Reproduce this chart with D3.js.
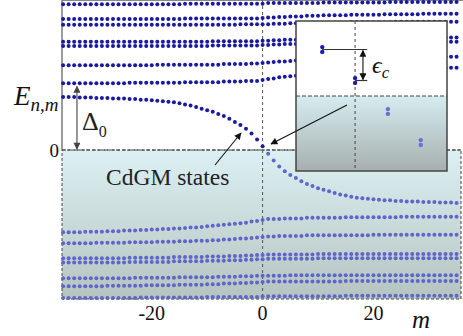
<!DOCTYPE html>
<html>
<head>
<meta charset="utf-8">
<script src="https://cdn.jsdelivr.net/npm/d3@7"></script>
</head>
<body style="margin:0">
<div id="chart"></div>
<script>
// angular momentum index m, one dot per band per m
const mValues = d3.range(-36, 36);

// Energy levels E_{n,m} (units of Delta0), listed for m = -36 ... 35
// bands above the gap
const bandA = [
  2.75, 2.75, 2.75, 2.75, 2.75, 2.75, 2.75, 2.75, 2.75, 2.75,
  2.75, 2.75, 2.75, 2.75, 2.75, 2.75, 2.75, 2.75, 2.75, 2.75,
  2.75, 2.75,
  2.76, 2.76, 2.76, 2.76, 2.76, 2.76, 2.76, 2.76, 2.76, 2.76,
  2.76, 2.76, 2.76, 2.76, 2.76,
  2.77, 2.77, 2.77, 2.77, 2.77, 2.77, 2.77, 2.77, 2.77, 2.77,
  2.78, 2.78, 2.78, 2.78, 2.78, 2.78, 2.78, 2.78, 2.78, 2.78,
  2.78, 2.78,
  2.79, 2.79, 2.79, 2.79, 2.79, 2.79, 2.79, 2.79, 2.79, 2.79,
  2.79, 2.79, 2.79
];
const bandB = [
  2.47, 2.47, 2.47, 2.47, 2.47, 2.47, 2.47, 2.47, 2.47, 2.47,
  2.47, 2.47, 2.47, 2.47, 2.47, 2.47, 2.47, 2.47, 2.47, 2.47,
  2.47, 2.47,
  2.48, 2.48, 2.48, 2.48, 2.48, 2.48, 2.48, 2.48, 2.48, 2.48,
  2.48, 2.48, 2.48, 2.48,
  2.49,
  2.50, 2.50, 2.51, 2.51, 2.52, 2.52, 2.52, 2.53, 2.53, 2.53,
  2.54, 2.54, 2.54, 2.54, 2.54,
  2.55, 2.55, 2.55, 2.55, 2.55, 2.55,
  2.56, 2.56, 2.56, 2.56, 2.56, 2.56, 2.56,
  2.57, 2.57, 2.57, 2.57, 2.57, 2.57, 2.57
];
const bandC = [
  2.36, 2.36, 2.36, 2.36, 2.36, 2.36, 2.36, 2.36, 2.36, 2.36,
  2.36, 2.36, 2.36, 2.36, 2.36, 2.36, 2.36, 2.36, 2.36, 2.36,
  2.36, 2.36, 2.36, 2.36, 2.36, 2.36, 2.36, 2.36, 2.36, 2.36,
  2.36, 2.36,
  2.37, 2.37, 2.37, 2.37, 2.37,
  2.37, 2.38, 2.38, 2.38, 2.39, 2.39, 2.39, 2.39, 2.40, 2.40,
  2.40, 2.40, 2.40, 2.40, 2.40,
  2.41, 2.41, 2.41, 2.41, 2.41, 2.41, 2.41, 2.41,
  2.42, 2.42, 2.42, 2.42, 2.42, 2.42, 2.42, 2.42, 2.42, 2.42,
  2.42, 2.42
];
const bandD1 = [
  2.04, 2.04, 2.04, 2.04, 2.04, 2.04, 2.04, 2.04, 2.04, 2.04,
  2.04, 2.04, 2.04, 2.04, 2.04, 2.04, 2.04, 2.04, 2.04, 2.04,
  2.04, 2.04, 2.04, 2.04, 2.04, 2.04, 2.04,
  2.05, 2.05, 2.05, 2.05, 2.05, 2.05, 2.05, 2.05, 2.05,
  2.06,
  2.06, 2.07, 2.07, 2.08, 2.08, 2.08, 2.09, 2.09, 2.09, 2.09,
  2.10, 2.10, 2.10, 2.10, 2.10, 2.10,
  2.11, 2.11, 2.11, 2.11, 2.11, 2.11, 2.11, 2.11,
  2.12, 2.12, 2.12, 2.12, 2.12, 2.12, 2.12, 2.12, 2.12, 2.12,
  2.12
];
const bandD2 = [
  1.96, 1.96, 1.96, 1.96, 1.96, 1.96, 1.96, 1.96, 1.96, 1.96,
  1.96, 1.96, 1.96, 1.96, 1.96, 1.96, 1.96, 1.96, 1.96, 1.96,
  1.96, 1.96, 1.96, 1.96, 1.96, 1.96, 1.96,
  1.97, 1.97, 1.97, 1.97, 1.97, 1.97, 1.97, 1.97, 1.97,
  1.98,
  1.98, 1.99, 1.99, 2.00, 2.00, 2.00, 2.01, 2.01, 2.01, 2.01,
  2.02, 2.02, 2.02, 2.02, 2.02, 2.02,
  2.03, 2.03, 2.03, 2.03, 2.03, 2.03, 2.03, 2.03,
  2.04, 2.04, 2.04, 2.04, 2.04, 2.04, 2.04, 2.04, 2.04, 2.04,
  2.04
];
const bandE = [
  1.60, 1.60, 1.60, 1.60, 1.60, 1.60, 1.60, 1.60, 1.60, 1.60,
  1.60, 1.60, 1.60, 1.60, 1.60, 1.60, 1.60,
  1.61, 1.61, 1.61, 1.61, 1.61, 1.61, 1.61, 1.61, 1.61, 1.61,
  1.61, 1.61,
  1.62, 1.62, 1.62, 1.62, 1.62,
  1.63, 1.63,
  1.64,
  1.65, 1.66, 1.67, 1.67, 1.68, 1.69, 1.69, 1.70, 1.70, 1.71,
  1.71, 1.71, 1.72, 1.72, 1.72, 1.73, 1.73, 1.73, 1.73, 1.74,
  1.74, 1.74, 1.74, 1.74, 1.75, 1.75, 1.75, 1.75, 1.75, 1.75,
  1.76, 1.76, 1.76, 1.76, 1.76
];
const bandF = [
  1.26, 1.26, 1.26, 1.26, 1.26, 1.26, 1.26, 1.26, 1.26, 1.26,
  1.26, 1.26,
  1.27, 1.27, 1.27, 1.27, 1.27, 1.27, 1.27, 1.27, 1.27, 1.27,
  1.28, 1.28, 1.28, 1.28, 1.28, 1.28, 1.28,
  1.29, 1.29, 1.29, 1.29,
  1.30, 1.30, 1.30,
  1.32,
  1.34, 1.35, 1.37, 1.38, 1.39, 1.40, 1.41, 1.42, 1.43, 1.44,
  1.45, 1.46, 1.46, 1.47, 1.48, 1.48, 1.49, 1.49, 1.50, 1.50,
  1.51, 1.51, 1.52, 1.52, 1.52, 1.53, 1.53, 1.53, 1.54, 1.54,
  1.54, 1.54, 1.55, 1.55, 1.55
];

// CdGM branch, crossing zero near m = 1/2
const bandCdGM = [
  1.00, 1.00, 1.00, 0.99, 0.99, 0.99, 0.98, 0.98, 0.98, 0.97,
  0.97, 0.97, 0.96, 0.96, 0.95, 0.95, 0.94, 0.93, 0.92, 0.91,
  0.90, 0.88, 0.86, 0.84, 0.81, 0.78, 0.75, 0.72, 0.68, 0.64,
  0.59, 0.53, 0.47, 0.40, 0.31, 0.20, 0.07, -0.07, -0.20, -0.31,
  -0.40, -0.47, -0.53, -0.59, -0.64, -0.68, -0.72, -0.75, -0.78, -0.81,
  -0.84, -0.86, -0.88, -0.90, -0.91, -0.92, -0.93, -0.94, -0.95, -0.95,
  -0.96, -0.96, -0.97, -0.97, -0.97, -0.98, -0.98, -0.98, -0.99, -0.99,
  -0.99, -1.00
];

// bands below the gap
const bandFm = [
  -1.55, -1.55, -1.55, -1.55, -1.54, -1.54, -1.54, -1.54, -1.53, -1.53,
  -1.53, -1.52, -1.52, -1.52, -1.51, -1.51, -1.50, -1.50, -1.49, -1.49,
  -1.48, -1.48, -1.47, -1.46, -1.46, -1.45, -1.44, -1.43, -1.42, -1.41,
  -1.40, -1.39, -1.38, -1.37, -1.35, -1.34,
  -1.32,
  -1.30, -1.30, -1.30,
  -1.29, -1.29, -1.29, -1.29,
  -1.28, -1.28, -1.28, -1.28, -1.28, -1.28, -1.28,
  -1.27, -1.27, -1.27, -1.27, -1.27, -1.27, -1.27, -1.27, -1.27, -1.27,
  -1.26, -1.26, -1.26, -1.26, -1.26, -1.26, -1.26, -1.26, -1.26, -1.26,
  -1.26
];
const bandEm = [
  -1.76, -1.76, -1.76, -1.76, -1.76, -1.76,
  -1.75, -1.75, -1.75, -1.75, -1.75, -1.75,
  -1.74, -1.74, -1.74, -1.74, -1.74,
  -1.73, -1.73, -1.73, -1.73,
  -1.72, -1.72, -1.72, -1.71, -1.71, -1.71,
  -1.70, -1.70, -1.69, -1.69, -1.68, -1.67, -1.67, -1.66, -1.65,
  -1.64,
  -1.63, -1.63,
  -1.62, -1.62, -1.62, -1.62, -1.62,
  -1.61, -1.61, -1.61, -1.61, -1.61, -1.61, -1.61, -1.61, -1.61, -1.61,
  -1.61, -1.61,
  -1.60, -1.60, -1.60, -1.60, -1.60, -1.60, -1.60, -1.60, -1.60, -1.60,
  -1.60, -1.60, -1.60, -1.60, -1.60, -1.60
];
const bandD2m = [
  -2.04, -2.04, -2.04, -2.04, -2.04, -2.04, -2.04, -2.04, -2.04, -2.04,
  -2.04, -2.04,
  -2.03, -2.03, -2.03, -2.03, -2.03, -2.03, -2.03, -2.03,
  -2.02, -2.02, -2.02, -2.02, -2.02, -2.02,
  -2.01, -2.01, -2.01, -2.01, -2.00, -2.00, -2.00, -1.99, -1.99, -1.98,
  -1.98,
  -1.97, -1.97, -1.97, -1.97, -1.97, -1.97, -1.97, -1.97, -1.97,
  -1.96, -1.96, -1.96, -1.96, -1.96, -1.96, -1.96, -1.96, -1.96, -1.96,
  -1.96, -1.96, -1.96, -1.96, -1.96, -1.96, -1.96, -1.96, -1.96, -1.96,
  -1.96, -1.96, -1.96, -1.96, -1.96, -1.96
];
const bandD1m = [
  -2.12, -2.12, -2.12, -2.12, -2.12, -2.12, -2.12, -2.12, -2.12, -2.12,
  -2.12, -2.12,
  -2.11, -2.11, -2.11, -2.11, -2.11, -2.11, -2.11, -2.11,
  -2.10, -2.10, -2.10, -2.10, -2.10, -2.10,
  -2.09, -2.09, -2.09, -2.09, -2.08, -2.08, -2.08, -2.07, -2.07, -2.06,
  -2.06,
  -2.05, -2.05, -2.05, -2.05, -2.05, -2.05, -2.05, -2.05, -2.05,
  -2.04, -2.04, -2.04, -2.04, -2.04, -2.04, -2.04, -2.04, -2.04, -2.04,
  -2.04, -2.04, -2.04, -2.04, -2.04, -2.04, -2.04, -2.04, -2.04, -2.04,
  -2.04, -2.04, -2.04, -2.04, -2.04, -2.04
];
const bandCm = [
  -2.42, -2.42, -2.42, -2.42, -2.42, -2.42, -2.42, -2.42, -2.42, -2.42,
  -2.42, -2.42, -2.42,
  -2.41, -2.41, -2.41, -2.41, -2.41, -2.41, -2.41, -2.41,
  -2.40, -2.40, -2.40, -2.40, -2.40, -2.40, -2.40,
  -2.39, -2.39, -2.39, -2.39, -2.38, -2.38, -2.38,
  -2.37, -2.37, -2.37, -2.37, -2.37, -2.37,
  -2.36, -2.36, -2.36, -2.36, -2.36, -2.36, -2.36, -2.36, -2.36, -2.36,
  -2.36, -2.36, -2.36, -2.36, -2.36, -2.36, -2.36, -2.36, -2.36, -2.36,
  -2.36, -2.36, -2.36, -2.36, -2.36, -2.36, -2.36, -2.36, -2.36, -2.36,
  -2.36
];
const bandBm = [
  -2.57, -2.57, -2.57, -2.57, -2.57, -2.57, -2.57, -2.57,
  -2.56, -2.56, -2.56, -2.56, -2.56, -2.56, -2.56,
  -2.55, -2.55, -2.55, -2.55, -2.55, -2.55,
  -2.54, -2.54, -2.54, -2.54, -2.54,
  -2.53, -2.53, -2.53, -2.52, -2.52, -2.52, -2.51, -2.51, -2.50, -2.50,
  -2.49,
  -2.48, -2.48, -2.48, -2.48, -2.48, -2.48, -2.48, -2.48, -2.48, -2.48,
  -2.48, -2.48, -2.48, -2.48,
  -2.47, -2.47, -2.47, -2.47, -2.47, -2.47, -2.47, -2.47, -2.47, -2.47,
  -2.47, -2.47, -2.47, -2.47, -2.47, -2.47, -2.47, -2.47, -2.47, -2.47,
  -2.47
];
const bandAm = [
  -2.79, -2.79, -2.79, -2.79, -2.79, -2.79, -2.79, -2.79, -2.79, -2.79,
  -2.79, -2.79, -2.79, -2.79,
  -2.78, -2.78, -2.78, -2.78, -2.78, -2.78, -2.78, -2.78, -2.78, -2.78,
  -2.78, -2.78,
  -2.77, -2.77, -2.77, -2.77, -2.77, -2.77, -2.77, -2.77, -2.77, -2.77,
  -2.76, -2.76, -2.76, -2.76, -2.76, -2.76, -2.76, -2.76, -2.76, -2.76,
  -2.76, -2.76, -2.76, -2.76, -2.76,
  -2.75, -2.75, -2.75, -2.75, -2.75, -2.75, -2.75, -2.75, -2.75, -2.75,
  -2.75, -2.75, -2.75, -2.75, -2.75, -2.75, -2.75, -2.75, -2.75, -2.75,
  -2.75
];

// inset: zoom on the crossing, levels in units of eps_c
const insetM = [-1, 0, 1, 2];
const insetE = [1.5, 0.5, -0.5, -1.5];

const xTicks = [-20, 0, 20];

const bands = [bandA, bandB, bandC, bandD1, bandD2, bandE, bandF, bandCdGM,
               bandFm, bandEm, bandD2m, bandD1m, bandCm, bandBm, bandAm];
bands.forEach((b, k) => {
  if (b.length !== mValues.length) throw new Error("band " + k + " has " + b.length + " values");
});

const SERIF = "Liberation Serif";
const W = 463, H = 336;
const svg = d3.select("#chart").append("svg").attr("width", W).attr("height", H)
  .style("display", "block");

const x = d3.scaleLinear().domain([-36.2, 35.8]).range([62, 461]);
const y = d3.scaleLinear().domain([-2.81, 2.81]).range([299, 1]);

// gradients and arrow heads
const defs = svg.append("defs");
const g1 = defs.append("linearGradient").attr("id", "gapShade")
  .attr("x1", 0).attr("y1", 0).attr("x2", 0).attr("y2", 1);
g1.append("stop").attr("offset", 0).attr("stop-color", "#dcf0f3");
g1.append("stop").attr("offset", 1).attr("stop-color", "#b6c4c0");
const g2 = defs.append("linearGradient").attr("id", "insetShade")
  .attr("x1", 0).attr("y1", 0).attr("x2", 0).attr("y2", 1);
g2.append("stop").attr("offset", 0).attr("stop-color", "#d5ecef");
g2.append("stop").attr("offset", 1).attr("stop-color", "#a7afaf");

function marker(id, color) {
  defs.append("marker").attr("id", id)
    .attr("viewBox", "0 0 10 10").attr("refX", 9).attr("refY", 5)
    .attr("markerWidth", 9).attr("markerHeight", 7)
    .attr("markerUnits", "userSpaceOnUse")
    .attr("orient", "auto-start-reverse")
    .append("path").attr("d", "M0,0 L10,5 L0,10 z").attr("fill", color);
}
marker("arrBlack", "#111");
marker("arrGrey", "#444");

// shaded region E < 0
svg.append("rect")
  .attr("x", x.range()[0]).attr("y", y(0))
  .attr("width", x.range()[1] - x.range()[0])
  .attr("height", y.range()[0] - y(0))
  .attr("fill", "url(#gapShade)")
  .attr("stroke", "#444").attr("stroke-width", 1)
  .attr("stroke-dasharray", "3,2");

// solid frame top and left above zero
svg.append("line").attr("x1", x.range()[0]).attr("x2", W).attr("y1", 0.5).attr("y2", 0.5)
  .attr("stroke", "#888").attr("stroke-width", 1);
svg.append("line").attr("x1", x.range()[0]).attr("x2", x.range()[0]).attr("y1", 0).attr("y2", y(0))
  .attr("stroke", "#666").attr("stroke-width", 1.3);

// dashed zero lines
svg.append("line").attr("x1", x.range()[0]).attr("x2", x.range()[1]).attr("y1", y(0)).attr("y2", y(0))
  .attr("stroke", "#444").attr("stroke-width", 1).attr("stroke-dasharray", "4,2");
svg.append("line").attr("x1", x(0)).attr("x2", x(0)).attr("y1", 0).attr("y2", y.range()[0])
  .attr("stroke", "#555").attr("stroke-width", 1).attr("stroke-dasharray", "3,3");

// level dots
const points = [];
bands.forEach(b => b.forEach((e, i) => points.push({ m: mValues[i], e: e })));
svg.append("g").selectAll("circle")
  .data(points)
  .join("circle")
  .attr("cx", d => x(d.m))
  .attr("cy", d => y(d.e))
  .attr("r", 2.0)
  .attr("fill", d => d.e > 0 ? "#1a1a9e" : "#5f66c9");

// all labels in one layer with the serif face
const labels = svg.append("g").attr("font-family", SERIF);

// x axis labels
xTicks.forEach(t => {
  labels.append("text").attr("x", x(t)).attr("y", 320)
    .attr("text-anchor", "middle").attr("font-size", 20).attr("fill", "#111").text(String(t));
});
labels.append("text").attr("x", 412).attr("y", 328)
  .attr("font-size", 25).attr("font-style", "italic").attr("fill", "#111").text("m");

// y labels
labels.append("text").attr("x", 59).attr("y", y(0) + 7)
  .attr("text-anchor", "end").attr("font-size", 19).attr("fill", "#111").text("0");

const eLab = labels.append("text").attr("x", 14).attr("y", 105)
  .attr("fill", "#111").attr("font-style", "italic");
eLab.append("tspan").attr("font-size", 27).text("E");
eLab.append("tspan").attr("font-size", 19).attr("dy", 6).text("n,m");

// Delta0 arrow
svg.append("line")
  .attr("x1", x(-33.5)).attr("x2", x(-33.5))
  .attr("y1", y(0) - 1).attr("y2", y(1.2))
  .attr("stroke", "#444").attr("stroke-width", 1.1)
  .attr("marker-start", "url(#arrGrey)").attr("marker-end", "url(#arrGrey)");
const dLab = labels.append("text").attr("x", 82).attr("y", 130).attr("fill", "#222");
dLab.append("tspan").attr("font-size", 26).text("Δ");
dLab.append("tspan").attr("font-size", 16).attr("dy", 7).text("0");

// CdGM label and arrow
labels.append("text").attr("x", 106).attr("y", 185)
  .attr("font-size", 23.5).attr("fill", "#222").text("CdGM states");
svg.append("line").attr("x1", 215).attr("y1", 165).attr("x2", 241).attr("y2", 133)
  .attr("stroke", "#111").attr("stroke-width", 1.1).attr("marker-end", "url(#arrBlack)");

// inset
const ix = d3.scaleLinear().domain([-1.8, 2.8]).range([296, 447]);
const iy = d3.scaleLinear().domain([-2.42, 2.42]).range([171, 21]);
const inset = svg.append("g");
inset.append("rect").attr("x", ix.range()[0]).attr("y", iy.range()[1])
  .attr("width", ix.range()[1] - ix.range()[0]).attr("height", iy.range()[0] - iy.range()[1])
  .attr("fill", "#fff");
inset.append("rect").attr("x", ix.range()[0]).attr("y", iy(0))
  .attr("width", ix.range()[1] - ix.range()[0]).attr("height", iy.range()[0] - iy(0))
  .attr("fill", "url(#insetShade)");
inset.append("line").attr("x1", ix.range()[0]).attr("x2", ix.range()[1]).attr("y1", iy(0)).attr("y2", iy(0))
  .attr("stroke", "#444").attr("stroke-dasharray", "4,2");
inset.append("line").attr("x1", ix(0)).attr("x2", ix(0)).attr("y1", iy.range()[1]).attr("y2", iy.range()[0])
  .attr("stroke", "#444").attr("stroke-dasharray", "3,3");
inset.append("rect").attr("x", ix.range()[0]).attr("y", iy.range()[1])
  .attr("width", ix.range()[1] - ix.range()[0]).attr("height", iy.range()[0] - iy.range()[1])
  .attr("fill", "none").attr("stroke", "#444").attr("stroke-width", 1.5);

// reference lines and eps_c arrow
inset.append("line").attr("x1", ix(insetM[0])).attr("x2", ix(0.37))
  .attr("y1", iy(insetE[0])).attr("y2", iy(insetE[0])).attr("stroke", "#333").attr("stroke-width", 1.2);
inset.append("line").attr("x1", ix(insetM[1])).attr("x2", ix(0.37))
  .attr("y1", iy(insetE[1])).attr("y2", iy(insetE[1])).attr("stroke", "#333").attr("stroke-width", 1.2);
inset.append("line").attr("x1", ix(0.24)).attr("x2", ix(0.24))
  .attr("y1", iy(insetE[0]) + 1).attr("y2", iy(insetE[1]) - 1)
  .attr("stroke", "#111").attr("stroke-width", 1.1)
  .attr("marker-start", "url(#arrBlack)").attr("marker-end", "url(#arrBlack)");
const epsLab = inset.append("text").attr("x", 372).attr("y", 73).attr("font-family", SERIF)
  .attr("fill", "#111").attr("font-style", "italic");
epsLab.append("tspan").attr("font-size", 24).text("ϵ");
epsLab.append("tspan").attr("font-size", 17).attr("dy", 5).text("c");

// inset dots (each level is a close pair)
const insetPts = [];
insetM.forEach((m, i) => { insetPts.push({ m: m, e: insetE[i], d: -2.4 }); insetPts.push({ m: m, e: insetE[i], d: 2.4 }); });
inset.append("g").selectAll("circle")
  .data(insetPts)
  .join("circle")
  .attr("cx", d => ix(d.m))
  .attr("cy", d => iy(d.e) + d.d)
  .attr("r", 2.2)
  .attr("fill", d => d.e > 0 ? "#1b1bb0" : "#6a70d8");

// arrow from inset to the crossing point
svg.append("line").attr("x1", 347).attr("y1", 105).attr("x2", 271).attr("y2", 144)
  .attr("stroke", "#111").attr("stroke-width", 1.1).attr("marker-end", "url(#arrBlack)");
</script>
</body>
</html>
